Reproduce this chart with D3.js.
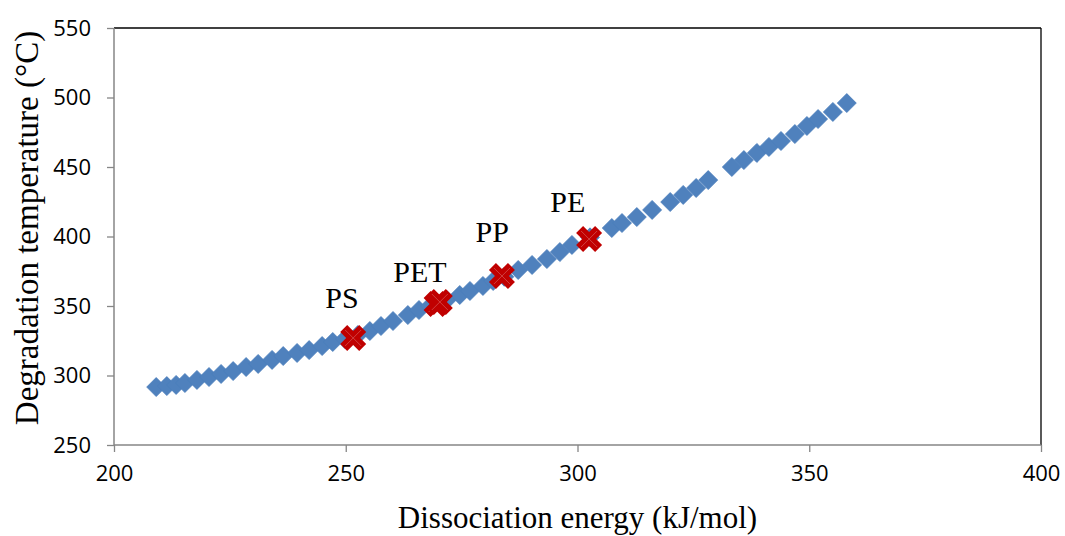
<!DOCTYPE html>
<html>
<head>
<meta charset="utf-8">
<script src="https://cdn.jsdelivr.net/npm/d3@7"></script>
<style>
  html, body { margin: 0; padding: 0; background: #fff; }
  svg { display: block; }
</style>
</head>
<body>
<svg id="chart" width="1065" height="536"></svg>
<script>
// ---- data ----
const energy = [209.1, 211.4, 213.4, 215.3, 217.9, 220.5, 223.1, 225.7, 228.5, 231.1,
  234.1, 236.5, 239.5, 242.1, 244.9, 247.2, 249.8, 252.6, 255.2, 257.6,
  260.2, 263.4, 265.8, 268.2, 271.8, 274.6, 276.8, 279.6, 281.8, 284.2,
  287.2, 290.2, 293.4, 296.2, 298.8, 302.7, 307.4, 309.6, 312.8, 316.1,
  320.0, 322.8, 325.6, 328.2, 333.3, 335.9, 338.7, 341.3, 343.9, 346.9,
  349.5, 351.9, 355.1, 358.1];
const degradation = [291.7, 292.4, 293.2, 294.6, 296.8, 298.9, 301.1, 303.2, 306.1, 308.3,
  311.2, 314.0, 316.2, 318.3, 321.2, 324.1, 326.3, 329.1, 332.0, 335.6,
  339.2, 343.5, 347.1, 350.0, 354.3, 357.9, 360.8, 364.4, 368.0, 371.0,
  375.9, 379.5, 383.8, 388.8, 393.9, 399.4, 406.1, 409.7, 414.0, 419.1,
  424.8, 429.9, 434.9, 440.6, 450.0, 455.0, 460.1, 464.4, 468.7, 473.7,
  479.5, 484.5, 489.6, 496.0];

const polymerNames = ["PS", "PET", "PET", "PP", "PE"];
const polymerEnergy = [251.6, 269.6, 270.3, 283.7, 302.5];
const polymerTemp = [327.0, 351.4, 352.9, 371.6, 398.2];

const labelNames = ["PS", "PET", "PP", "PE"];
const labelEnergy = [249.2, 266.0, 281.6, 297.9];
const labelTemp = [348.6, 367.3, 396.0, 417.6];

const xTicks = [200, 250, 300, 350, 400];
const yTicks = [250, 300, 350, 400, 450, 500, 550];
const xTitle = "Dissociation energy (kJ/mol)";
const yTitle = "Degradation temperature (°C)";

// ---- layout ----
const svg = d3.select("#chart");
const L = 114, R = 1041, T = 28, B = 445;
const x = d3.scaleLinear().domain([200, 400]).range([L, R]);
const y = d3.scaleLinear().domain([250, 550]).range([B, T]);

const tickFont = "'Open Sans', sans-serif";
const serif = "'Liberation Serif', 'Times New Roman', serif";

// frame top/right
svg.append("line").attr("x1", L).attr("x2", R).attr("y1", T).attr("y2", T)
  .attr("stroke", "#000").attr("stroke-width", 1.3);
svg.append("line").attr("x1", R).attr("x2", R).attr("y1", T).attr("y2", B)
  .attr("stroke", "#000").attr("stroke-width", 1.3);

// axes
const xAxis = svg.append("g").attr("transform", `translate(0,${B})`)
  .call(d3.axisBottom(x).tickValues(xTicks).tickSize(7).tickPadding(13).tickFormat(d3.format("d")));
const yAxis = svg.append("g").attr("transform", `translate(${L},0)`)
  .call(d3.axisLeft(y).tickValues(yTicks).tickSize(7).tickPadding(16).tickFormat(d3.format("d")));
[xAxis, yAxis].forEach(g => {
  g.select(".domain").attr("stroke", "#868686").attr("stroke-width", 1.5);
  g.selectAll(".tick line").attr("stroke", "#868686").attr("stroke-width", 1.3);
  g.selectAll(".tick text").attr("fill", "#000").style("font-family", tickFont).style("font-size", "22px");
});
xAxis.select(".domain").attr("d", `M${L},0H${R}`);
yAxis.select(".domain").attr("d", `M0,${B}V${T}`);

// titles
svg.append("text").attr("x", (L + R) / 2).attr("y", 528).attr("text-anchor", "middle")
  .style("font-family", serif).style("font-size", "31px").text(xTitle);
svg.append("text").attr("transform", `translate(38,228) rotate(-90)`).attr("text-anchor", "middle")
  .style("font-family", serif).style("font-size", "33px").text(yTitle);

// blue diamonds
const d = 9.5;
const pts = energy.map((e, i) => [e, degradation[i]]);
svg.append("g").selectAll("path").data(pts).join("path")
  .attr("transform", p => `translate(${x(p[0])},${y(p[1])})`)
  .attr("d", `M0,${-d}L${d},0L0,${d}L${-d},0Z`)
  .attr("fill", "#4F81BD").attr("stroke", "#4A7EBB").attr("stroke-width", 0.8);

// red X markers
const a = 13, b = 7;
const xPath = `M${-a},${-a + b}L${-a + b},${-a}L0,${-b}L${a - b},${-a}L${a},${-a + b}L${b},0` +
  `L${a},${a - b}L${a - b},${a}L0,${b}L${-a + b},${a}L${-a},${a - b}L${-b},0Z`;
const redPts = polymerNames.map((n, i) => [polymerEnergy[i], polymerTemp[i]]);
const rg = svg.append("g").selectAll("g").data(redPts).join("g")
  .attr("transform", p => `translate(${x(p[0])},${y(p[1])})`);
rg.append("path").attr("d", xPath).attr("fill", "#C00000");
rg.append("path").attr("d", "M-8,-8L8,8M8,-8L-8,8").attr("stroke", "#D86A6A").attr("stroke-width", 0.6);

// labels
svg.append("g").selectAll("text").data(labelNames).join("text")
  .attr("x", (n, i) => x(labelEnergy[i])).attr("y", (n, i) => y(labelTemp[i]))
  .attr("text-anchor", "middle")
  .style("font-family", serif).style("font-size", "30px").attr("fill", "#000")
  .text(n => n);
</script>
</body>
</html>
